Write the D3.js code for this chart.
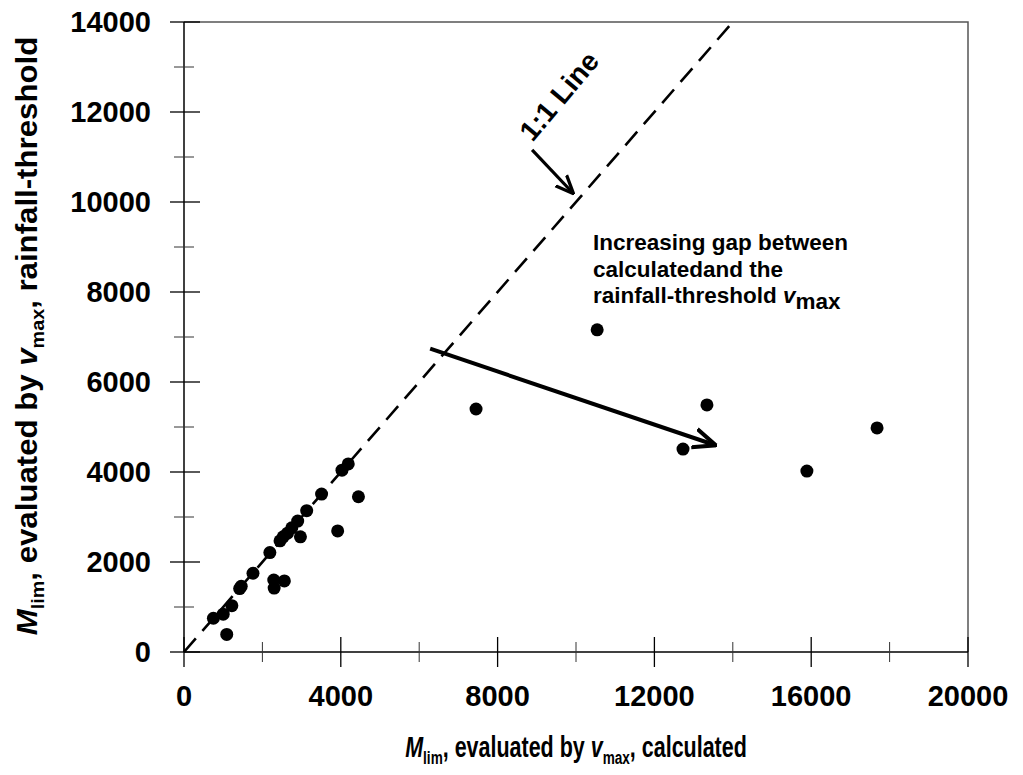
<!DOCTYPE html>
<html>
<head>
<meta charset="utf-8">
<script src="https://cdn.jsdelivr.net/npm/d3@7"></script>
<style>
  body { margin: 0; background: #fff; }
  svg { display: block; font-family: "Liberation Sans", Arial, sans-serif; }
</style>
</head>
<body>
<svg id="chart" width="1023" height="775"></svg>
<script>
// values
const calculated = [750, 1000, 1220, 1090, 1420, 1460, 1760, 2190, 2290, 2300, 2560, 2450, 2530, 2640, 2750, 2900, 2970, 3130, 3510, 3920, 4030, 4190, 4450, 7450, 10540, 12730, 13340, 15890, 17680]
const rainfall   = [750, 840, 1030, 390, 1410, 1460, 1750, 2210, 1600, 1420, 1580, 2470, 2560, 2640, 2760, 2910, 2560, 3140, 3510, 2690, 4040, 4180, 3450, 5400, 7160, 4510, 5490, 4020, 4980]
const xMajor = [0, 4000, 8000, 12000, 16000, 20000]
const xMinor = [2000, 6000, 10000, 14000, 18000]
const yMajor = [0, 2000, 4000, 6000, 8000, 10000, 12000, 14000]
const yMinor = [1000, 3000, 5000, 7000, 9000, 11000, 13000]
const gapArrow = [[6280, 6740], [13540, 4600]]
const lineArrow = [[8880, 11160], [9920, 10200]]

const svg = d3.select('#chart')
const margin = { top: 22, left: 184 }
const width = 784, height = 630

const x = d3.scaleLinear().domain([0, 20000]).range([margin.left, margin.left + width])
const y = d3.scaleLinear().domain([0, 14000]).range([margin.top + height, margin.top])

svg.append('defs').append('marker')
    .attr('id', 'head')
    .attr('viewBox', '0 0 10 10')
    .attr('refX', 9).attr('refY', 5)
    .attr('markerWidth', 6).attr('markerHeight', 6)
    .attr('orient', 'auto')
    .append('path')
    .attr('d', 'M0,1 L9.5,5 L0,9')
    .attr('fill', 'none').attr('stroke', '#000').attr('stroke-width', 1.7)

// frame top / right
svg.append('path')
    .attr('d', `M${x(0)},${y(14000)}H${x(20000)}V${y(0)}`)
    .attr('fill', 'none').attr('stroke', '#555').attr('stroke-width', 1.5)

// axes lines
svg.append('line').attr('x1', x(0)).attr('x2', x(20000)).attr('y1', y(0)).attr('y2', y(0))
    .attr('stroke', '#000').attr('stroke-width', 1.5)
svg.append('line').attr('x1', x(0)).attr('x2', x(0)).attr('y1', y(0)).attr('y2', y(14000))
    .attr('stroke', '#000').attr('stroke-width', 1.5)

// cross ticks
svg.append('g').selectAll('line').data(xMajor).join('line')
    .attr('x1', d => x(d)).attr('x2', d => x(d))
    .attr('y1', y(0) - 15).attr('y2', y(0) + 15)
    .attr('stroke', '#000').attr('stroke-width', 1.3)
svg.append('g').selectAll('line').data(xMinor).join('line')
    .attr('x1', d => x(d)).attr('x2', d => x(d))
    .attr('y1', y(0) - 10).attr('y2', y(0) + 10)
    .attr('stroke', '#333').attr('stroke-width', 1)
svg.append('g').selectAll('line').data(yMajor).join('line')
    .attr('y1', d => y(d)).attr('y2', d => y(d))
    .attr('x1', x(0) - 14).attr('x2', x(0) + 16)
    .attr('stroke', '#000').attr('stroke-width', 1.3)
svg.append('g').selectAll('line').data(yMinor).join('line')
    .attr('y1', d => y(d)).attr('y2', d => y(d))
    .attr('x1', x(0) - 10).attr('x2', x(0) + 10)
    .attr('stroke', '#333').attr('stroke-width', 1)

// tick labels
svg.append('g').selectAll('text').data(xMajor).join('text')
    .attr('x', d => x(d)).attr('y', 706)
    .attr('text-anchor', 'middle')
    .style('font-size', '29px').style('font-weight', 'bold')
    .text(d => d)
svg.append('g').selectAll('text').data(yMajor).join('text')
    .attr('x', 151).attr('y', d => y(d)).attr('dy', '0.36em')
    .attr('text-anchor', 'end')
    .style('font-size', '29px').style('font-weight', 'bold')
    .text(d => d)

// axis titles
function title(sel, tail) {
    sel.append('tspan').style('font-style', 'italic').text('M')
    sel.append('tspan').attr('dy', 7).style('font-size', '19px').text('lim')
    sel.append('tspan').attr('dy', -7).text(', evaluated by ')
    sel.append('tspan').style('font-style', 'italic').text('v')
    sel.append('tspan').attr('dy', 7).style('font-size', '19px').text('max')
    sel.append('tspan').attr('dy', -7).text(', ' + tail)
}
// narrow look: squeeze horizontally
const xt = svg.append('text')
    .attr('transform', 'translate(576,757) scale(0.716,1)')
    .attr('text-anchor', 'middle')
    .style('font-size', '30px').style('font-weight', 'bold')
title(xt, 'calculated')

const yt = svg.append('text')
    .attr('transform', 'translate(37,336) rotate(-90) scale(1.04,1)')
    .attr('text-anchor', 'middle')
    .style('font-size', '30px').style('font-weight', 'bold')
title(yt, 'rainfall-threshold')

// 1:1 line
svg.append('line')
    .attr('x1', x(0)).attr('y1', y(0))
    .attr('x2', x(14000)).attr('y2', y(14000))
    .attr('stroke', '#000').attr('stroke-width', 2.6)
    .attr('stroke-dasharray', '18,10')

// points
svg.append('g').selectAll('circle')
    .data(calculated.map((c, i) => [c, rainfall[i]]))
    .join('circle')
    .attr('cx', d => x(d[0])).attr('cy', d => y(d[1]))
    .attr('r', 6.5).attr('fill', '#000')

// annotations
svg.append('line')
    .attr('x1', x(gapArrow[0][0])).attr('y1', y(gapArrow[0][1]))
    .attr('x2', x(gapArrow[1][0])).attr('y2', y(gapArrow[1][1]))
    .attr('stroke', '#000').attr('stroke-width', 4)
    .attr('marker-end', 'url(#head)')
svg.append('line')
    .attr('x1', x(lineArrow[0][0])).attr('y1', y(lineArrow[0][1]))
    .attr('x2', x(lineArrow[1][0])).attr('y2', y(lineArrow[1][1]))
    .attr('stroke', '#000').attr('stroke-width', 3.2)
    .attr('marker-end', 'url(#head)')

svg.append('text')
    .attr('transform', 'translate(559,96) rotate(-50)')
    .attr('text-anchor', 'middle').attr('dy', '0.35em')
    .style('font-size', '28px').style('font-weight', 'bold')
    .text('1:1 Line')

const note = svg.append('text')
    .style('font-size', '22.5px').style('font-weight', 'bold')
note.append('tspan').attr('x', 593).attr('y', 250).text('Increasing gap between')
note.append('tspan').attr('x', 593).attr('y', 277).text('calculatedand the')
note.append('tspan').attr('x', 593).attr('y', 303).text('rainfall-threshold ')
note.append('tspan').style('font-style', 'italic').text('v')
note.append('tspan').attr('dy', 6).text('max')
</script>
</body>
</html>
